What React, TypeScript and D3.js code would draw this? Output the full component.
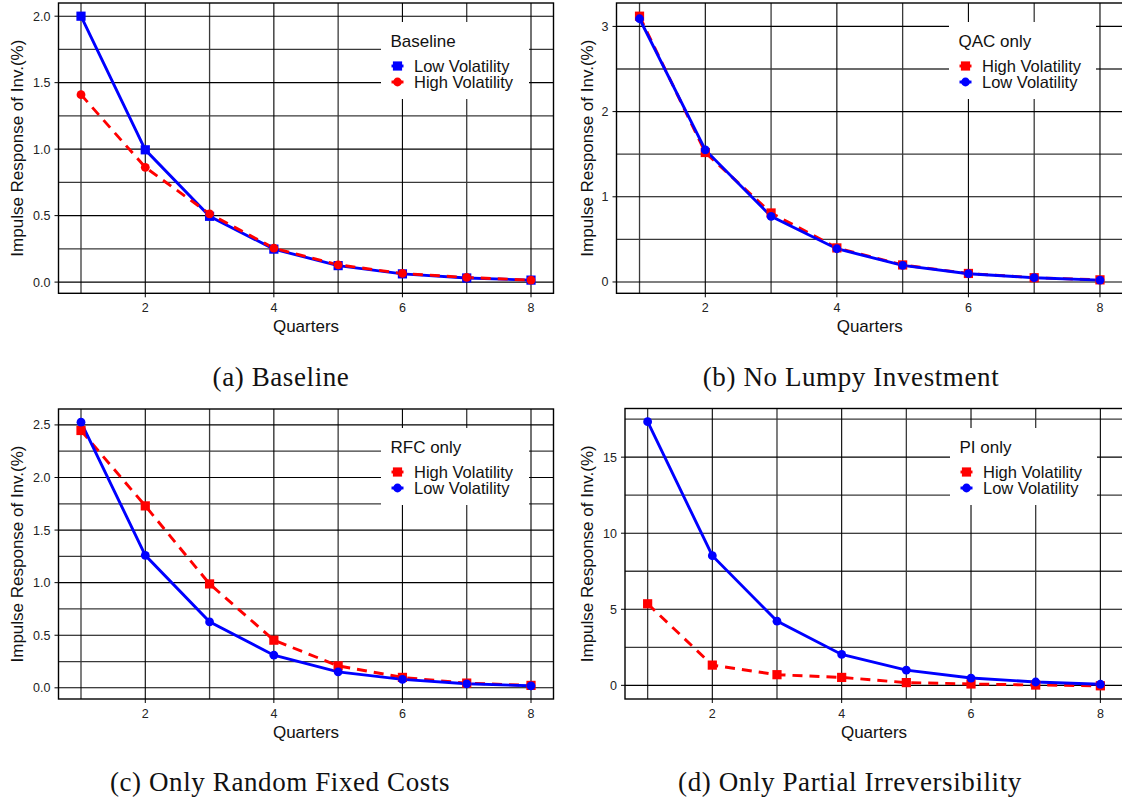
import * as d3 from 'd3'

// x axis: quarters after the shock
const quarters = [1, 2, 3, 4, 5, 6, 7, 8]
const xMajor = [2, 4, 6, 8]
const xMinor = [1, 3, 5, 7]

// (a) Baseline
const baselineLow = [2.0, 0.995, 0.495, 0.248, 0.124, 0.062, 0.031, 0.015]
const baselineHigh = [1.41, 0.863, 0.513, 0.255, 0.13, 0.065, 0.035, 0.015]
// (b) No lumpy investment
const qacHigh = [3.12, 1.52, 0.81, 0.4, 0.2, 0.1, 0.05, 0.025]
const qacLow = [3.09, 1.55, 0.77, 0.39, 0.195, 0.097, 0.05, 0.022]
// (c) Only random fixed costs
const rfcHigh = [2.447, 1.73, 0.988, 0.453, 0.209, 0.099, 0.045, 0.023]
const rfcLow = [2.526, 1.26, 0.627, 0.31, 0.152, 0.08, 0.038, 0.019]
// (d) Only partial irreversibility
const piHigh = [5.36, 1.33, 0.7, 0.52, 0.18, 0.09, 0.02, -0.03]
const piLow = [17.33, 8.52, 4.22, 2.03, 1.0, 0.48, 0.22, 0.07]

const yTicksA = [0, 0.5, 1, 1.5, 2]
const yMinorA = [0.25, 0.75, 1.25, 1.75]
const yTicksB = [0, 1, 2, 3]
const yMinorB = [0.5, 1.5, 2.5]
const yTicksC = [0, 0.5, 1, 1.5, 2, 2.5]
const yMinorC = [0.25, 0.75, 1.25, 1.75, 2.25]
const yTicksD = [0, 5, 10, 15]
const yMinorD = [2.5, 7.5, 12.5, 17.5]

const BLUE = '#0000ff'
const RED = '#ff0000'
const SANS = '"Liberation Sans", Arial, sans-serif'
const SERIF = '"Liberation Serif", "Times New Roman", serif'

type Series = { name: string; values: number[]; color: string; shape: 'square' | 'circle'; dashed: boolean }

const Marker = ({ x, y, shape, color }) =>
  shape === 'square'
    ? <rect x={x - 4.6} y={y - 4.6} width={9.2} height={9.2} fill={color} />
    : <circle cx={x} cy={y} r={4.4} fill={color} />

const Panel = ({ box, series, yTicks, yMinor, fmt, legendTitle, legendPos, legendW, caption, captionX, captionY }) => {
  const all = series.flatMap((s: Series) => s.values)
  const [lo, hi] = d3.extent(all) as [number, number]
  const pad = (hi - lo) * 0.05
  const x = d3.scaleLinear().domain([0.65, 8.35]).range([box.left, box.right])
  const y = d3.scaleLinear().domain([lo - pad, hi + pad]).range([box.bottom, box.top])
  const line = d3.line<number>().x((d, i) => x(quarters[i])).y(d => y(d))
  const f = d3.format(fmt)
  const midX = (box.left + box.right) / 2
  const midY = (box.top + box.bottom) / 2
  const yTitleX = box.left < 100 ? 17 : 587
  const clipId = 'clip' + caption.slice(1, 2)

  return (
    <g>
      <defs>
        <clipPath id={clipId}>
          <rect x={box.left} y={box.top} width={box.right - box.left} height={box.bottom - box.top} />
        </clipPath>
      </defs>
      {/* grid */}
      {yMinor.map(v => (
        <line key={'ym' + v} x1={box.left} x2={box.right} y1={y(v)} y2={y(v)} stroke="#3a3a3a" strokeWidth={1.3} />
      ))}
      {xMinor.map(v => (
        <line key={'xm' + v} x1={x(v)} x2={x(v)} y1={box.top} y2={box.bottom} stroke="#3a3a3a" strokeWidth={1.3} />
      ))}
      {yTicks.map(v => (
        <line key={'yM' + v} x1={box.left} x2={box.right} y1={y(v)} y2={y(v)} stroke="#000" strokeWidth={1.1} />
      ))}
      {xMajor.map(v => (
        <line key={'xM' + v} x1={x(v)} x2={x(v)} y1={box.top} y2={box.bottom} stroke="#000" strokeWidth={1.1} />
      ))}

      {/* legend background sits over grid */}
      <rect x={legendPos.x} y={legendPos.y} width={legendW} height={77} fill="#fff" />

      {/* data */}
      <g clipPath={`url(#${clipId})`}>
        {series.map((s: Series) => (
          <path key={'l' + s.name} d={line(s.values)} fill="none" stroke={s.color} strokeWidth={2.9}
            strokeDasharray={s.dashed ? '10,7' : null} />
        ))}
        {series.map((s: Series) => s.values.map((v, i) => (
          <Marker key={s.name + i} x={x(quarters[i])} y={y(v)} shape={s.shape} color={s.color} />
        )))}
      </g>

      {/* frame */}
      <rect x={box.left} y={box.top} width={box.right - box.left} height={box.bottom - box.top}
        fill="none" stroke="#000" strokeWidth={1.4} />

      {/* y axis */}
      {yTicks.map(v => (
        <g key={'yt' + v}>
          <line x1={box.left - 4} x2={box.left} y1={y(v)} y2={y(v)} stroke="#000" />
          <text x={box.left - 8} y={y(v)} dy="0.36em" textAnchor="end" fontSize={12.5} fill="#222" fontFamily={SANS}>{f(v)}</text>
        </g>
      ))}
      <text transform={`translate(${yTitleX},${midY}) rotate(-90)`} dy="0.36em" textAnchor="middle"
        fontSize={17} fill="#111" fontFamily={SANS}>Impulse Response of Inv.(%)</text>

      {/* x axis */}
      {xMajor.map(v => (
        <g key={'xt' + v}>
          <line x1={x(v)} x2={x(v)} y1={box.bottom} y2={box.bottom + 4} stroke="#000" />
          <text x={x(v)} y={box.bottom + 14} dy="0.36em" textAnchor="middle" fontSize={12.5} fill="#222" fontFamily={SANS}>{v}</text>
        </g>
      ))}
      <text x={midX} y={box.bottom + 38.5} textAnchor="middle" fontSize={17} fill="#111" fontFamily={SANS}>Quarters</text>

      {/* legend */}
      <text x={legendPos.x + 9.5} y={legendPos.y + 24.5} fontSize={17} fill="#111" fontFamily={SANS}>{legendTitle}</text>
      {series.map((s: Series, i) => {
        const cy = legendPos.y + 44 + i * 16
        const cx = legendPos.x + 16.5
        return (
          <g key={'lg' + s.name}>
            <line x1={cx - 6} x2={cx + 6} y1={cy} y2={cy} stroke={s.color} strokeWidth={2.9} />
            <Marker x={cx} y={cy} shape={s.shape} color={s.color} />
            <text x={legendPos.x + 33} y={cy} dy="0.36em" fontSize={16.5} fill="#111" fontFamily={SANS}>{s.name}</text>
          </g>
        )
      })}

      {/* caption */}
      <text x={captionX} y={captionY} textAnchor="middle" fontSize={27} letterSpacing={0.6} fill="#111" fontFamily={SERIF}>{caption}</text>
    </g>
  )
}

const App = () => {
  const low = (values: number[], shape: 'square' | 'circle'): Series => ({ name: 'Low Volatility', values, color: BLUE, shape, dashed: false })
  const high = (values: number[], shape: 'square' | 'circle'): Series => ({ name: 'High Volatility', values, color: RED, shape, dashed: true })

  return (
    <svg width={1122} height={802} style={{ position: 'absolute', left: 0, top: 0, background: '#fff' }}>
      <Panel box={{ left: 58.5, right: 553.5, top: 3, bottom: 293.3 }}
        series={[low(baselineLow, 'square'), high(baselineHigh, 'circle')]}
        yTicks={yTicksA} yMinor={yMinorA} fmt=".1f"
        legendTitle="Baseline" legendPos={{ x: 381, y: 22 }} legendW={148}
        caption="(a) Baseline" captionX={281} captionY={386} />
      <Panel box={{ left: 616.5, right: 1123, top: 3, bottom: 293.3 }}
        series={[high(qacHigh, 'square'), low(qacLow, 'circle')]}
        yTicks={yTicksB} yMinor={yMinorB} fmt="d"
        legendTitle="QAC only" legendPos={{ x: 949, y: 22 }} legendW={147}
        caption="(b) No Lumpy Investment" captionX={851} captionY={386} />
      <Panel box={{ left: 58.5, right: 553.5, top: 409, bottom: 699 }}
        series={[high(rfcHigh, 'square'), low(rfcLow, 'circle')]}
        yTicks={yTicksC} yMinor={yMinorC} fmt=".1f"
        legendTitle="RFC only" legendPos={{ x: 381, y: 428 }} legendW={148}
        caption="(c) Only Random Fixed Costs" captionX={280} captionY={791} />
      <Panel box={{ left: 625, right: 1123, top: 408.5, bottom: 699 }}
        series={[high(piHigh, 'square'), low(piLow, 'circle')]}
        yTicks={yTicksD} yMinor={yMinorD} fmt="d"
        legendTitle="PI only" legendPos={{ x: 950, y: 428 }} legendW={147}
        caption="(d) Only Partial Irreversibility" captionX={850} captionY={791} />
    </svg>
  )
}

export default App
